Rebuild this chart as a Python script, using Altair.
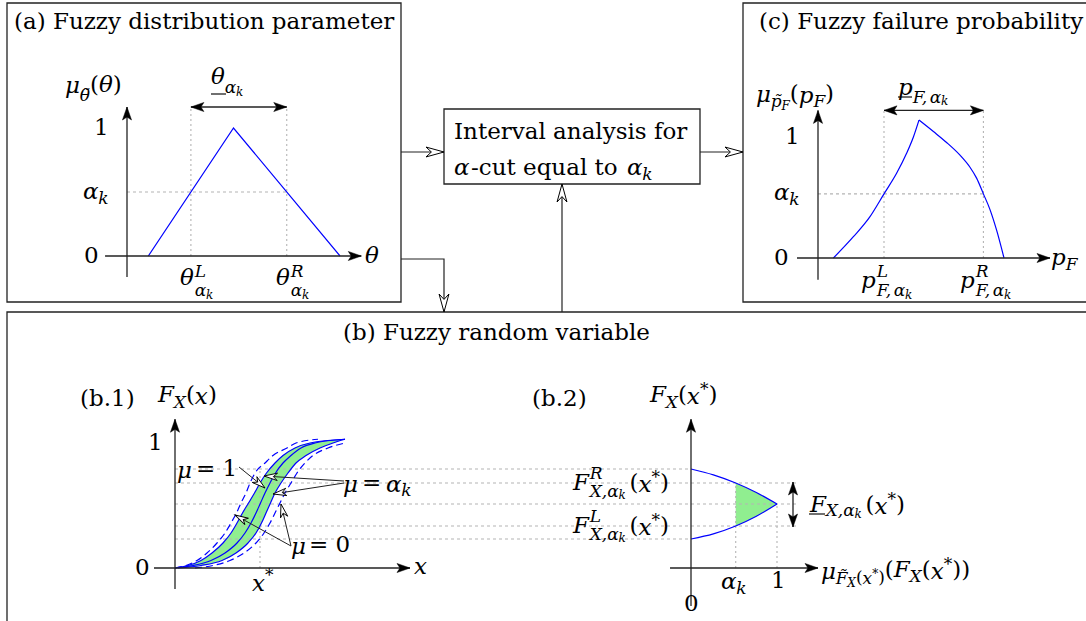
import math
import altair as alt
import pandas as pd

W, H = 1086, 621

# ---------------- values ----------------
# (a) triangular fuzzy distribution parameter
theta_pts = [1.0, 5.0, 10.0]
mu_theta = [0.0, 1.0, 0.0]
alpha_a = 0.5
theta_L, theta_R = 3.0, 7.5

# (c) fuzzy failure probability membership
pf_rise = [0.77, 1.77, 2.6, 3.3, 3.93, 4.43, 4.77, 5.05]
mu_rise = [0.0, 0.176, 0.342, 0.53, 0.70, 0.865, 1.0, 1.14]
pf_fall = [5.05, 5.77, 6.43, 7.1, 7.6, 7.93, 8.27, 8.6, 8.93, 9.3]
mu_fall = [1.14, 1.045, 0.955, 0.85, 0.75, 0.66, 0.53, 0.40, 0.23, 0.0]
alpha_c = 0.53
pf_L, pf_R = 3.3, 8.27

# (b.1) family of CDFs, x read at common F levels
F_lv = [0, 0.02, 0.06, 0.12, 0.2, 0.28, 0.36, 0.44, 0.52, 0.6, 0.68, 0.76, 0.84, 0.9, 0.96, 1.0, 1.03]
x_mu1 = [0, 1.8, 3.6, 5.0, 6.2, 7.0, 7.6, 8.1, 8.55, 9.0, 9.5, 10.05, 10.8, 11.6, 12.6, 14.0, 17.0]
x_akL = [0, 1.3, 2.6, 3.7, 4.8, 5.6, 6.2, 6.75, 7.35, 7.95, 8.5, 9.15, 10.0, 10.8, 12.0, 13.5, 17.0]
x_akR = [0.3, 2.6, 4.7, 6.1, 7.3, 8.1, 8.65, 9.1, 9.55, 10.0, 10.6, 11.3, 12.1, 13.1, 14.5, 15.8, 17.0]
x_m0L = [0, 1.1, 2.2, 3.2, 4.2, 5.0, 5.6, 6.15, 6.6, 7.1, 7.5, 8.0, 9.0, 9.8, 11.2, 12.1, 14.3]
x_m0R = [2.0, 3.8, 5.5, 6.9, 8.1, 8.9, 9.5, 10.0, 10.5, 11.0, 11.6, 12.2, 13.0, 13.8, 15.3, 17.0]
x_star = 8.5
F_m0_hi, F_ak_hi, F_mu1, F_ak_lo, F_m0_lo = 0.792, 0.68, 0.512, 0.336, 0.232

# (b.2) membership of F_X(x*)
mu_b2 = [0, 0.26, 0.52, 0.76, 1.0]
F_upper = [0.792, 0.745, 0.68, 0.604, 0.512]
F_lower = [0.232, 0.273, 0.336, 0.414, 0.512]
alpha_b = 0.52


# ---------------- layout ----------------
def frame(ox, oy, sx, sy):
    return lambda u, v: (ox + u * sx, oy - v * sy)


PA = frame(127, 256, 21.3, 128)
PC = frame(818, 258, 20, 121)
PB1 = frame(175, 568, 10, 125)
PB2 = frame(691, 568, 86, 125)


def ang(p0, p1):
    return math.degrees(math.atan2(p1[0] - p0[0], -(p1[1] - p0[1]))) % 360


guides, dashes, axes, flows, leaders = [], [], [], [], []
blue, blue_smooth, blue_dash = [], [], []
h_solid, h_open, h_small = [], [], []


def axis(p0, p1):
    axes.append([p0, p1])
    h_solid.append((p1, ang(p0, p1)))


def double(p0, p1):
    axes.append([p0, p1])
    h_solid.append((p0, ang(p1, p0)))
    h_solid.append((p1, ang(p0, p1)))


# panel (a)
axis(PA(-1.03, 0), PA(11.0, 0))
axis(PA(0, -0.164), PA(0, 1.164))
dashes.append([PA(0, alpha_a), PA(theta_R, alpha_a)])
guides += [[PA(theta_L, 0), PA(theta_L, 1.164)],
           [PA(theta_R, 0), PA(theta_R, 1.164)]]
double(PA(theta_L, 1.164), PA(theta_R, 1.164))
blue.append([PA(t, m) for t, m in zip(theta_pts, mu_theta)])

# panel (c)
axis(PC(-1.05, 0), PC(11.6, 0))
axis(PC(0, -0.18), PC(0, 1.22))
dashes.append([PC(0, alpha_c), PC(pf_R, alpha_c)])
guides += [[PC(pf_L, 0), PC(pf_L, 1.22)],
           [PC(pf_R, 0), PC(pf_R, 1.22)]]
double(PC(pf_L, 1.22), PC(pf_R, 1.22))
blue_smooth.append([PC(p, m) for p, m in zip(pf_rise, mu_rise)])
blue_smooth.append([PC(p, m) for p, m in zip(pf_fall, mu_fall)])

# panel (b.1)
axis(PB1(-2.1, 0), PB1(23.5, 0))
axis(PB1(0, -0.168), PB1(0, 1.19))
guides.append([PB1(x_star, 0), PB1(x_star, F_m0_hi)])
for f, end in [(F_m0_hi, 0), (F_ak_hi, 1.23), (F_mu1, 1.23), (F_ak_lo, 1.23), (F_m0_lo, 0)]:
    dashes.append([PB1(0, f), PB2(end, f)])
for xs_ in (x_mu1, x_akL, x_akR):
    blue_smooth.append([PB1(x, f) for x, f in zip(xs_, F_lv)])
for xs_ in (x_m0L, x_m0R):
    blue_dash.append([PB1(x, f) for x, f in zip(xs_, F_lv)])

# panel (b.2)
axis(PB2(-0.244, 0), PB2(1.477, 0))
axis(PB2(0, -0.304), PB2(0, 1.19))
guides += [[PB2(alpha_b, 0), PB2(alpha_b, F_ak_hi)], [PB2(1.0, 0), PB2(1.0, F_mu1)]]
double(PB2(1.186, 0.688), PB2(1.186, 0.328))
blue_smooth.append([PB2(m, f) for m, f in zip(mu_b2, F_upper)])
blue_smooth.append([PB2(m, f) for m, f in zip(mu_b2, F_lower)])

# connectors between the blocks
for pts in ([(401, 152), (444, 152)], [(700, 152), (743, 152)],
            [(562, 312), (562, 184)], [(401, 259), (444, 259), (444, 312)]):
    flows.append(pts)
    h_open.append((pts[-1], ang(pts[-2], pts[-1])))

# annotation leaders in (b.1)
for pts in ([(239, 467), (265, 488)], [(344, 481), (264, 476)], [(344, 483), (273, 494)],
            [(291, 546), (235, 515)], [(291, 546), (281, 504)]):
    leaders.append(pts)
    h_small.append((pts[-1], ang(pts[-2], pts[-1])))

# block outlines
boxes = pd.DataFrame([
    dict(x=7, x2=401, y=3, y2=302),
    dict(x=743, x2=1100, y=3, y2=302),
    dict(x=7, x2=1100, y=312, y2=640),
    dict(x=444, x2=700, y=109, y2=184),
])

# ---------------- text ----------------
N, I = False, True
S, s, ss = 23, 17, 12
# rough advance widths (em) used to chain math pieces
ADV_N = {"(": 0.39, ")": 0.39, "*": 0.5, ",": 0.32, "=": 0.84, " ": 0.32, "0": 0.64, "1": 0.64}
ADV_I = {"μ": 0.64, "θ": 0.60, "α": 0.66, "k": 0.58, "x": 0.57, "F": 0.68, "X": 0.72,
         "p": 0.64, "L": 0.62, "R": 0.70, ",": 0.32}

labels = []


def width(t, size, it):
    tab = ADV_I if it else ADV_N
    return sum(tab.get(c, 0.0) for c in t) * size


def run(x, y, parts):
    """Chain pieces (text, size, italic, dy) left to right; return the end x."""
    for t, size, it, dy in parts:
        labels.append((t, x, y + dy, size, it))
        x += width(t, size, it)
    return x


def stack(x, y, sup, sub):
    """Superscript over subscript starting at the same x."""
    a = run(x, y, sup)
    b = run(x, y, sub)
    return max(a, b)


def akpair(x, y, size, sub_size, dy):
    return run(x, y, [("α", size, I, 0), ("k", sub_size, I, dy)])


# (a)
labels.append(("(a) Fuzzy distribution parameter", 14, 22, S, N))
run(65, 86, [("μ", S, I, 0), ("θ̃", s, I, 10), ("(", S, N, -1), ("θ", S, I, -1), (")", S, N, -1)])
run(211, 77, [("θ", S, I, 0), ("α", s, I, 11), ("k", ss, I, 15)])
labels += [("1", 94, 128, S, N), ("0", 84, 256, S, N)]
akpair(83, 192, S, s, 7)
for x0, sup in ((180, "L"), (276, "R")):
    xe = run(x0, 278, [("θ", S, I, 0)])
    stack(xe + 1, 278, [(sup, s, I, -6)], [("α", s, I, 13), ("k", ss, I, 17)])
run(365, 256, [("θ", S, I, 0)])

# (c)
labels.append(("(c) Fuzzy failure probability", 759, 22, S, N))
run(756, 95, [("μ", S, I, 0), ("p̃", s, I, 7), ("F", ss, I, 11), ("(", S, N, -1),
              ("p", S, I, 1), ("F", s, I, 7), (")", S, N, -1)])
run(898, 88, [("p", S, I, 0), ("F,", s, I, 10), ("α", s, I, 10), ("k", ss, I, 13)])
labels += [("1", 785, 137, S, N), ("0", 774, 258, S, N)]
akpair(774, 193, S, s, 7)
for x0, sup in ((861, "L"), (960, "R")):
    xe = run(x0, 281, [("p", S, I, 0)])
    stack(xe + 1, 281, [(sup, s, I, -9)], [("F,", s, I, 10), ("α", s, I, 10), ("k", ss, I, 14)])
run(1051, 258, [("p", S, I, 0), ("F", s, I, 7)])

# central block
labels.append(("Interval analysis for", 454, 132, S, N))
run(454, 168, [("α", S, I, 0)])
labels.append(("-cut equal to", 471, 168, S, N))
akpair(627, 168, S, s, 7)

# (b)
labels.append(("(b) Fuzzy random variable", 343, 333, S, N))
labels.append(("(b.1)", 80, 399, S, N))
run(158, 395, [("F", S, I, 0), ("X", s, I, 8), ("(", S, N, 0), ("x", S, I, 2), (")", S, N, 0)])
labels += [("1", 148, 443, S, N), ("0", 135, 568, S, N)]
run(252, 584, [("x", S, I, 0), ("*", s, N, -8)])
run(414, 567, [("x", S, I, 0)])
run(177, 471, [("μ", S, I, 0)])
labels.append(("= 1", 196, 469, S, N))
run(343, 485, [("μ", S, I, 0)])
labels.append(("=", 362, 483, S, N))
akpair(386, 485, S, s, 6)
run(291, 547, [("μ", S, I, 0)])
labels.append(("= 0", 309, 545, S, N))

labels.append(("(b.2)", 532, 399, S, N))
run(650, 395, [("F", S, I, 0), ("X", s, I, 8), ("(", S, N, 0), ("x", S, I, 2), ("*", s, N, -5), (")", S, N, 0)])
for yc, sup in ((483, "R"), (526, "L")):
    xe = run(573, yc, [("F", S, I, 0)])
    xe = stack(xe + 1, yc, [(sup, s, I, -9)], [("X,", s, I, 9), ("α", s, I, 9), ("k", ss, I, 12)])
    run(xe + 4, yc, [("(", S, N, 0), ("x", S, I, 2), ("*", s, N, -5), (")", S, N, 0)])
xe = run(810, 505, [("F", S, I, 0), ("X,", s, I, 6), ("α", s, I, 6), ("k", ss, I, 9)])
run(xe + 4, 505, [("(", S, N, 0), ("x", S, I, 2), ("*", s, N, -5), (")", S, N, 0)])
akpair(721, 582, S, s, 7)
labels += [("1", 771, 581, S, N), ("0", 684, 604, S, N)]
run(821, 572, [("μ", S, I, 0), ("F̃", s, I, 7), ("X", ss, I, 11), ("(", s, N, 6), ("x", s, I, 7),
               ("*", ss, N, 2), (")", s, N, 6), ("(", S, N, -2), ("F", S, I, -2), ("X", s, I, 5),
               ("(", S, N, -2), ("x", S, I, 0), ("*", s, N, -7), (")", S, N, -2), (")", S, N, -2)])

underlines = [[(211, 94), (226, 94)], [(898, 97), (912, 97)], [(809, 514), (825, 514)]]
axes += underlines

# ---------------- chart ----------------
xs = alt.Scale(domain=[0, W], nice=False, zero=False)
ys = alt.Scale(domain=[0, H], nice=False, zero=False, reverse=True)
X = alt.X("x:Q", scale=xs, axis=None)
Y = alt.Y("y:Q", scale=ys, axis=None)


def poly_df(polys):
    rows = []
    for g, pts in enumerate(polys):
        for i, (x, y) in enumerate(pts):
            rows.append(dict(g=g, i=i, x=x, y=y))
    return pd.DataFrame(rows)


def lines(polys, color, width_, dash=None, interp="linear"):
    mk = dict(color=color, strokeWidth=width_, clip=True, interpolate=interp)
    if dash:
        mk["strokeDash"] = dash
    return alt.Chart(poly_df(polys)).mark_line(**mk).encode(X, Y, detail="g:N", order="i:Q")


def heads(items, path, size, fill, sw=1.0):
    df = pd.DataFrame([dict(x=p[0], y=p[1], a=a) for p, a in items])
    return alt.Chart(df).mark_point(shape=path, size=size, filled=True, fill=fill, stroke="black",
                                    strokeWidth=sw, opacity=1).encode(
        X, Y, angle=alt.Angle("a:Q", scale=None))


STEALTH = "M0,0L0.55,2L0,1.4L-0.55,2Z"
LATEX = "M0,0L0.7,2L0,1.55L-0.7,2Z"

# green bands
band1 = pd.DataFrame([dict(y=PB1(0, f)[1], x=PB1(a, f)[0], x2=PB1(b, f)[0])
                      for a, b, f in zip(x_akL, x_akR, F_lv)])
band2 = pd.DataFrame([dict(x=PB2(m, u)[0], y=PB2(m, u)[1], y2=PB2(m, l)[1])
                      for m, u, l in zip(mu_b2, F_upper, F_lower) if m >= alpha_b])
fill1 = alt.Chart(band1).mark_area(orient="horizontal", color="#90ee90", interpolate="monotone").encode(
    x=alt.X("x:Q", scale=xs, axis=None), x2="x2:Q", y=Y)
fill2 = alt.Chart(band2).mark_area(color="#90ee90", interpolate="monotone").encode(
    X, y=alt.Y("y:Q", scale=ys, axis=None), y2="y2:Q")

rects = alt.Chart(boxes).mark_rect(fillOpacity=0, stroke="#222", strokeWidth=1.3, clip=True).encode(
    x=alt.X("x:Q", scale=xs, axis=None), x2="x2:Q", y=alt.Y("y:Q", scale=ys, axis=None), y2="y2:Q")

lab = pd.DataFrame(labels, columns=["t", "x", "y", "s", "it"])


def texts(df, italic):
    mk = dict(font="DejaVu Serif", align="left", baseline="middle", color="black")
    if italic:
        mk["fontStyle"] = "italic"
    return alt.Chart(df).mark_text(**mk).encode(X, Y, text="t:N", size=alt.Size("s:Q", scale=None))


layers = [
    fill1, fill2,
    lines(guides, "#b4b4b4", 1.1, dash=[2, 3]),
    lines(dashes, "#b4b4b4", 1.1, dash=[3, 3]),
    lines(blue, "#0000ff", 1.2),
    lines(blue_smooth, "#0000ff", 1.2, interp="monotone"),
    lines(blue_dash, "#0000ff", 1.2, dash=[7, 4], interp="monotone"),
    lines(axes, "#222", 1.3),
    lines(flows, "#222", 1.2),
    lines(leaders, "#222", 1.0),
    rects,
    heads(h_solid, LATEX, 169, "black", 0.5),
    heads(h_open, STEALTH, 324, "white", 1.0),
    heads(h_small, STEALTH, 180, "white", 0.9),
    texts(lab[~lab.it], False),
    texts(lab[lab.it], True),
]

chart = alt.layer(*layers).properties(
    width=W, height=H, padding=0, background="white",
    autosize=alt.AutoSizeParams(type="none"),
).configure_view(stroke=None)

chart.save("out.html", embed_options={"renderer": "svg", "actions": False})
